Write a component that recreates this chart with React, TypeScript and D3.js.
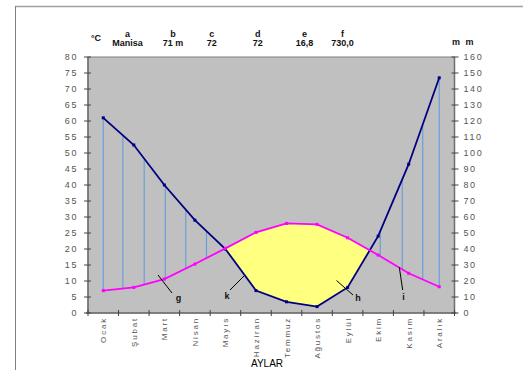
import React from 'react';
import * as d3 from 'd3';

const months = ['Ocak', 'Şubat', 'Mart', 'Nisan', 'Mayıs', 'Haziran', 'Temmuz', 'Ağustos', 'Eylül', 'Ekim', 'Kasım', 'Aralık'];
const temperature = [7.0, 8.0, 10.6, 15.3, 20.2, 25.2, 28.0, 27.7, 23.5, 18.1, 12.4, 8.2];
const precipitation = [122, 105, 80, 58, 40, 14, 7, 4, 16, 48, 93, 147];
const tempTicks = d3.range(0, 81, 5);
const precipTicks = d3.range(0, 161, 10);
const headerKeys = ['a', 'b', 'c', 'd', 'e', 'f'];
const headerValues = ['Manisa', '71 m', '72', '72', '16,8', '730,0'];
const hatchMonthPositions = [0, 0.64, 1.34, 2.03, 2.7, 3.38, 9.07, 9.79, 10.46, 11];
const calloutLetters = ['g', 'k', 'h', 'i'];

// layout
const W = 523, H = 370;
const L = 88, R = 454.5, T = 57, B = 313;
const headerX = [127.5, 173, 211.7, 257.7, 304.5, 342.5];
const callouts = [
  { tx: 178.5, ty: 301, x1: 158, y1: 275, x2: 172, y2: 293 },
  { tx: 227, ty: 299, x1: 230, y1: 290, x2: 244, y2: 276 },
  { tx: 358, ty: 301, x1: 336.5, y1: 280.5, x2: 353, y2: 295 },
  { tx: 403.5, ty: 300, x1: 399.3, y1: 267.3, x2: 402.7, y2: 290 },
];

export default function App() {
  const band = d3.scaleBand<string>().domain(months).range([L, R]);
  const xi = d3.scaleLinear().domain([-0.5, 11.5]).range([L, R]);
  const yT = d3.scaleLinear().domain([0, 80]).range([B, T]);
  const yP = d3.scaleLinear().domain([0, 160]).range([B, T]);
  const idx = d3.range(months.length);
  const tInterp = d3.scaleLinear().domain(idx).range(temperature);
  const pInterp = d3.scaleLinear().domain(idx).range(precipitation);

  const tLine = d3.line<number>().x((i) => xi(i)).y((i) => yT(temperature[i]))(idx) as string;
  const pLine = d3.line<number>().x((i) => xi(i)).y((i) => yP(precipitation[i]))(idx) as string;
  const underTemp = d3.area<number>().x((i) => xi(i)).y0(B).y1((i) => yT(temperature[i]))(idx) as string;
  const abovePrecip = d3.area<number>().x((i) => xi(i)).y0(T).y1((i) => yP(precipitation[i]))(idx) as string;

  const tickFont = { fontFamily: 'Liberation Sans, Arial, sans-serif', fontSize: 9, fill: '#555', letterSpacing: 1.6 } as const;
  const headFont = { fontFamily: 'Liberation Sans Narrow, Liberation Sans, Arial, sans-serif', fontSize: 9, fontWeight: 'bold', fill: '#111' } as const;

  return (
    <div style={{ position: 'fixed', left: 0, top: 0 }}>
      <svg width={W} height={H} style={{ display: 'block', background: '#fff' }}>
        <defs>
          <clipPath id="abovePrecip">
            <path d={abovePrecip} />
          </clipPath>
        </defs>
        {/* outer frame */}
        <line x1={15} y1={6.5} x2={W} y2={6.5} stroke="#a0a0a0" strokeWidth={1.5} />
        <line x1={15.5} y1={6} x2={15.5} y2={H} stroke="#808080" strokeWidth={1} />

        {/* plot area */}
        <rect x={L} y={T} width={R - L} height={B - T} fill="#c0c0c0" stroke="#808080" strokeWidth={1} />

        {/* arid area */}
        <path d={underTemp} fill="#ffff80" clipPath="url(#abovePrecip)" />

        {/* humid hatch */}
        {hatchMonthPositions.map((p, k) => {
          const ty = yT(tInterp(p));
          const py = yP(pInterp(p));
          if (py >= ty) return null;
          return <line key={k} x1={xi(p)} x2={xi(p)} y1={ty} y2={py} stroke="#6a9fd8" strokeWidth={1.2} />;
        })}

        {/* lines */}
        <path d={pLine} fill="none" stroke="#000080" strokeWidth={1.8} />
        <path d={tLine} fill="none" stroke="#ff00ff" strokeWidth={1.8} />
        {idx.map((i) => (
          <rect key={'pm' + i} x={xi(i) - 1.5} y={yP(precipitation[i]) - 1.5} width={3} height={3} fill="#000080" />
        ))}
        {idx.map((i) => (
          <rect key={'tm' + i} x={xi(i) - 1.5} y={yT(temperature[i]) - 1.5} width={3} height={3} fill="#ff00ff" />
        ))}

        {/* axes */}
        <line x1={L} y1={T} x2={L} y2={B} stroke="#6e6e6e" strokeWidth={1.5} />
        <line x1={R} y1={T} x2={R} y2={B} stroke="#6e6e6e" strokeWidth={1.5} />
        <line x1={L - 2} y1={B} x2={R + 2} y2={B} stroke="#6e6e6e" strokeWidth={1.5} />
        {tempTicks.map((t) => (
          <g key={'lt' + t}>
            <line x1={L - 4} x2={L + 3} y1={yT(t)} y2={yT(t)} stroke="#444" strokeWidth={1} />
            <text x={L - 10} y={yT(t)} dy="0.35em" textAnchor="end" style={tickFont}>{t}</text>
          </g>
        ))}
        {precipTicks.map((t) => (
          <g key={'rt' + t}>
            <line x1={R - 3} x2={R + 4} y1={yP(t)} y2={yP(t)} stroke="#444" strokeWidth={1} />
            <text x={R + 9} y={yP(t)} dy="0.35em" textAnchor="start" style={tickFont}>{t}</text>
          </g>
        ))}
        {months.map((m, i) => (
          <g key={'bt' + m}>
            <line x1={(band(m) as number)} x2={(band(m) as number)} y1={B - 3} y2={B + 3} stroke="#444" strokeWidth={1} />
            <text
              transform={`translate(${(band(m) as number) + band.bandwidth() / 2 + 3},${B + 4}) rotate(-90)`}
              textAnchor="end"
              style={{ ...tickFont, fontSize: 8, letterSpacing: 1.8 }}
            >
              {m}
            </text>
          </g>
        ))}
        <line x1={R} x2={R} y1={B - 3} y2={B + 3} stroke="#444" strokeWidth={1} />
        <text x={267} y={367} textAnchor="middle" style={{ fontFamily: 'Liberation Sans, Arial, sans-serif', fontSize: 10, fill: '#000' }}>AYLAR</text>

        {/* header */}
        <text x={91} y={41} style={headFont}>°C</text>
        <text x={452} y={44.5} style={{ ...headFont, letterSpacing: 1.5 }}>m m</text>
        {headerKeys.map((k, i) => (
          <g key={'h' + k}>
            <text x={headerX[i]} y={36.5} textAnchor="middle" style={headFont}>{k}</text>
            <text x={headerX[i]} y={45.5} textAnchor="middle" style={headFont}>{headerValues[i]}</text>
          </g>
        ))}

        {/* callouts */}
        {callouts.map((c, i) => (
          <g key={'c' + i}>
            <line x1={c.x1} y1={c.y1} x2={c.x2} y2={c.y2} stroke="#000" strokeWidth={1} />
            <text x={c.tx} y={c.ty} textAnchor="middle" style={{ ...headFont, fontSize: 9 }}>{calloutLetters[i]}</text>
          </g>
        ))}
      </svg>
    </div>
  );
}
